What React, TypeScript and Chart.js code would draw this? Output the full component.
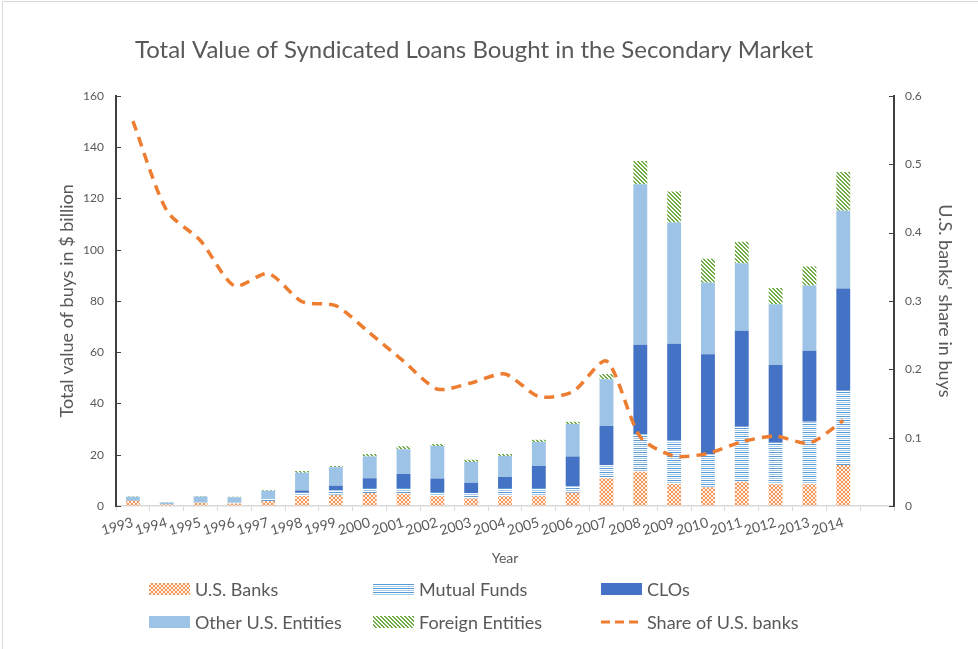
import React, { useEffect, useRef } from "react";
import { Chart, registerables } from "chart.js";

Chart.register(...registerables);

const years = ["1993","1994","1995","1996","1997","1998","1999","2000","2001","2002","2003","2004","2005","2006","2007","2008","2009","2010","2011","2012","2013","2014",""];
const usBanks = [2.0,0.6,1.3,1.0,1.9,3.9,4.3,5.0,4.8,3.9,2.9,3.8,4.0,5.2,10.8,13.4,8.6,7.3,9.5,8.5,8.5,16.0];
const mutualFunds = [0.2,0.1,0.2,0.4,0.8,1.3,1.8,2.0,2.2,1.6,2.1,3.2,3.0,2.6,5.1,14.7,16.9,12.9,21.4,16.2,24.4,29.0];
const clos = [0,0,0,0,0,0.8,1.8,3.8,5.5,5.2,4.1,4.3,8.6,11.5,15.3,34.8,37.8,39.0,37.5,30.3,27.7,39.8];
const otherUS = [1.4,0.7,2.2,2.0,3.2,7.0,7.2,8.5,9.6,12.7,8.1,8.2,9.4,12.7,18.2,62.6,47.3,27.9,26.3,23.7,25.4,30.4];
const foreign = [0.2,0.2,0.2,0.2,0.3,0.7,0.5,1.0,1.2,0.8,0.8,0.8,0.8,0.9,2.1,9.1,12.1,9.3,8.4,6.3,7.4,15.1];
const shareUSBanks = [0.563,0.432,0.388,0.322,0.340,0.299,0.293,0.253,0.212,0.171,0.180,0.193,0.160,0.167,0.212,0.101,0.073,0.077,0.094,0.102,0.092,0.125];
const leftTicks = [0,20,40,60,80,100,120,140,160];
const rightTicks = [0,0.1,0.2,0.3,0.4,0.5,0.6];

const FONT = "Lato, 'Open Sans', sans-serif";
const TEXT = "#595959";

function tile(ctx: CanvasRenderingContext2D, w: number, h: number, draw: (c: CanvasRenderingContext2D) => void) {
  const c = document.createElement("canvas");
  c.width = w; c.height = h;
  const x = c.getContext("2d")!;
  draw(x);
  return ctx.createPattern(c, "repeat")!;
}

export default function App() {
  const ref = useRef<HTMLCanvasElement>(null);
  useEffect(() => {
    const canvas = ref.current!;
    const ctx = canvas.getContext("2d")!;
    const bankPat = tile(ctx, 4, 4, (c) => {
      c.fillStyle = "#FEF1E8"; c.fillRect(0, 0, 4, 4);
      c.fillStyle = "#F29559";
      for (let i = 0; i < 4; i++) { c.fillRect(i, i, 1, 1); c.fillRect(3 - i, i, 1, 1); }
    });
    const mfPat = tile(ctx, 4, 4, (c) => {
      c.fillStyle = "#5B9BD5"; c.fillRect(0, 0, 4, 1);
      c.fillStyle = "#FFFFFF"; c.fillRect(0, 1, 4, 1);
      c.fillStyle = "#A9CBEA"; c.fillRect(0, 2, 4, 1);
      c.fillStyle = "#FFFFFF"; c.fillRect(0, 3, 4, 1);
    });
    const forPat = tile(ctx, 4, 4, (c) => {
      c.fillStyle = "#FFFFFF"; c.fillRect(0, 0, 4, 4);
      c.fillStyle = "#70AD47";
      for (let y = 0; y < 4; y++) for (let x = 0; x < 4; x++) {
        const d = ((x - y) % 4 + 4) % 4;
        if (d === 0 || d === 1) c.fillRect(x, y, 1, 1);
      }
    });
    const CLO = "#4472C4";
    const OTHER = "#9DC3E6";
    const ORANGE = "#ED7D31";

    const legendItems = [
      { label: "U.S. Banks", fill: bankPat as any, line: false, col: 0, row: 0 },
      { label: "Mutual Funds", fill: mfPat as any, line: false, col: 1, row: 0 },
      { label: "CLOs", fill: CLO, line: false, col: 2, row: 0 },
      { label: "Other U.S. Entities", fill: OTHER, line: false, col: 0, row: 1 },
      { label: "Foreign Entities", fill: forPat as any, line: false, col: 1, row: 1 },
      { label: "Share of U.S. banks", fill: ORANGE, line: true, col: 2, row: 1 },
    ];
    const colX = [149, 373, 601];
    const rowY = [589, 622];

    const extras = {
      id: "extras",
      afterDraw(chart: any) {
        const c = chart.ctx as CanvasRenderingContext2D;
        const ys = chart.scales.y, yr = chart.scales.y1;
        const a = chart.chartArea;
        c.save();
        c.strokeStyle = "#404040";
        c.lineWidth = 1;
        leftTicks.forEach((v) => {
          const py = Math.round(ys.getPixelForValue(v)) + 0.5;
          c.beginPath(); c.moveTo(a.left, py); c.lineTo(a.left + 5, py); c.stroke();
        });
        rightTicks.forEach((v) => {
          const py = Math.round(yr.getPixelForValue(v)) + 0.5;
          c.beginPath(); c.moveTo(a.right - 5, py); c.lineTo(a.right, py); c.stroke();
        });
        // legend
        c.font = `18px ${FONT}`;
        c.textBaseline = "middle";
        c.textAlign = "left";
        legendItems.forEach((it) => {
          const x = colX[it.col], y = rowY[it.row];
          if (it.line) {
            c.strokeStyle = it.fill; c.lineWidth = 3; c.setLineDash([9, 5]);
            c.beginPath(); c.moveTo(x, y); c.lineTo(x + 41, y); c.stroke();
            c.setLineDash([]);
          } else {
            c.fillStyle = it.fill; c.fillRect(x, y - 6, 41, 12);
          }
          c.fillStyle = TEXT;
          c.fillText(it.label, x + 46, y + 1);
        });
        c.restore();
      },
    };

    const barCommon = { stack: "s", yAxisID: "y", order: 1, borderWidth: 0, barPercentage: 0.41, categoryPercentage: 1 };
    const chart = new Chart(canvas, {
      type: "bar",
      data: {
        labels: years,
        datasets: [
          { type: "line", label: "Share of U.S. banks", data: shareUSBanks, yAxisID: "y1", order: 0, borderColor: ORANGE, borderWidth: 3.5, borderDash: [10, 7], pointRadius: 0, tension: 0.25, fill: false } as any,
          { label: "U.S. Banks", data: usBanks, backgroundColor: bankPat, ...barCommon },
          { label: "Mutual Funds", data: mutualFunds, backgroundColor: mfPat, ...barCommon },
          { label: "CLOs", data: clos, backgroundColor: CLO, ...barCommon },
          { label: "Other U.S. Entities", data: otherUS, backgroundColor: OTHER, ...barCommon },
          { label: "Foreign Entities", data: foreign, backgroundColor: forPat, ...barCommon },
        ],
      },
      options: {
        animation: false,
        responsive: true,
        maintainAspectRatio: false,
        layout: { padding: { left: 0, right: 30, top: 0, bottom: 81 } },
        plugins: {
          legend: { display: false },
          tooltip: { enabled: false },
          title: {
            display: true,
            text: "Total Value of Syndicated Loans Bought in the Secondary Market",
            color: TEXT,
            font: { family: FONT, size: 24, weight: "normal" },
            padding: { top: 36, bottom: 31 },
          },
        },
        scales: {
          x: {
            stacked: true,
            offset: true,
            grid: { display: true, drawOnChartArea: false, drawTicks: true, tickLength: 5, color: "#D9D9D9", offset: true },
            border: { color: "#D9D9D9", width: 1.5 },
            ticks: { autoSkip: false, minRotation: 16, maxRotation: 16, color: TEXT, font: { family: FONT, size: 14 }, padding: 3 },
            title: { display: true, text: "Year", color: TEXT, font: { family: FONT, size: 14 }, padding: { top: 0, bottom: 1 } },
            afterFit: (s: any) => { s.height = 62; },
          },
          y: {
            stacked: true,
            position: "left",
            min: 0, max: 160,
            ticks: { stepSize: 20, color: TEXT, font: { family: FONT, size: 12 }, padding: 12 },
            grid: { drawOnChartArea: false, drawTicks: false },
            border: { color: "#404040", width: 2 },
            title: { display: true, text: "Total value of buys in $ billion", color: TEXT, font: { family: FONT, size: 18 }, padding: { top: 56, bottom: 0 } },
            afterFit: (s: any) => { s.width = 116; },
          },
          y1: {
            stacked: false,
            position: "right",
            min: 0, max: 0.6,
            ticks: { stepSize: 0.1, color: TEXT, font: { family: FONT, size: 12 }, padding: 11, callback: (v: any) => (v === 0 ? "0" : String(Math.round(Number(v) * 10) / 10)) },
            grid: { drawOnChartArea: false, drawTicks: false },
            border: { color: "#404040", width: 2 },
            title: { display: true, text: "U.S. banks' share in buys", color: TEXT, font: { family: FONT, size: 18 }, padding: { top: -8, bottom: 0 } },
            afterFit: (s: any) => { s.width = 54; },
          },
        },
      } as any,
      plugins: [extras],
    });
    return () => chart.destroy();
  }, []);

  return (
    <div style={{ position: "fixed", left: 0, top: 0, width: 978, height: 649, background: "#fff" }}>
      <div style={{ position: "absolute", left: 2, top: 1, width: 1000, height: 700, borderLeft: "1px solid #D9D9D9", borderTop: "1px solid #D9D9D9" }} />
      <div style={{ position: "absolute", left: 0, top: 0, width: 978, height: 649 }}>
        <canvas ref={ref} />
      </div>
    </div>
  );
}
